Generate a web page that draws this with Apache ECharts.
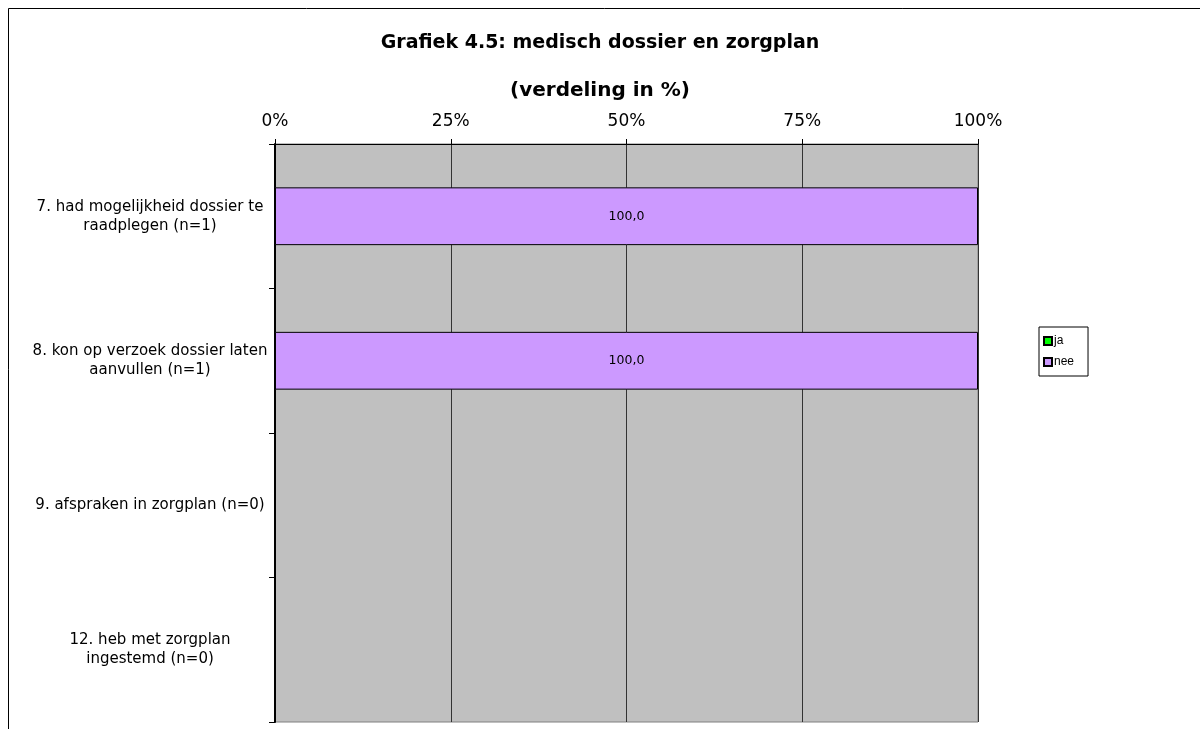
<!DOCTYPE html>
<html>
<head>
<meta charset="utf-8">
<script src="https://cdn.jsdelivr.net/npm/echarts@6/dist/echarts.min.js"></script>
<style>
  html, body { margin: 0; padding: 0; background: #fff; }
  #chart { width: 1200px; height: 729px; }
</style>
</head>
<body>
<div id="chart"></div>
<script>
  // categorieen (van boven naar beneden)
  var categories = [
    '7. had mogelijkheid dossier te\nraadplegen (n=1)',
    '8. kon op verzoek dossier laten\naanvullen (n=1)',
    '9. afspraken in zorgplan (n=0)',
    '12. heb met zorgplan\ningestemd (n=0)'
  ];
  var jaData = [0, 0, null, null];
  var neeData = [100, 100, null, null];
  var xTicks = [0, 25, 50, 75, 100];

  var myChart = echarts.init(document.getElementById('chart'));

  var barLabel = {
    show: true,
    position: 'inside',
    color: '#000',
    fontFamily: 'DejaVu Sans',
    fontSize: 12.5,
    formatter: function (p) {
      if (!p.value) return '';
      return p.value.toFixed(1).replace('.', ',');
    }
  };

  var option = {
    animation: false,
    backgroundColor: '#fff',
    graphic: [{
      type: 'rect',
      shape: { x: 8.5, y: 8.5, width: 1210, height: 740 },
      style: { fill: 'none', stroke: '#000', lineWidth: 1 },
      silent: true
    }],
    title: [{
      text: 'Grafiek 4.5: medisch dossier en zorgplan',
      left: 'center',
      top: 29,
      textStyle: { fontFamily: 'DejaVu Sans', fontSize: 19, fontWeight: 'bold', color: '#000' }
    }, {
      text: '(verdeling in %)',
      left: 'center',
      top: 76,
      textStyle: { fontFamily: 'DejaVu Sans', fontSize: 20, fontWeight: 'bold', color: '#000' }
    }],
    legend: {
      data: ['ja', 'nee'],
      orient: 'vertical',
      left: 1039,
      top: 327,
      itemWidth: 8,
      itemHeight: 8,
      itemGap: 9,
      padding: [8, 14, 8, 4],
      borderColor: '#000',
      borderWidth: 1,
      icon: 'rect',
      selectedMode: false,
      textStyle: { fontFamily: 'Liberation Sans', fontSize: 12, color: '#000', padding: [0, 0, 0, -3] }
    },
    grid: {
      left: 275,
      right: 222,
      top: 144,
      bottom: 7,
      show: true,
      backgroundColor: '#c0c0c0',
      borderColor: '#808080',
      borderWidth: 1
    },
    xAxis: {
      type: 'value',
      position: 'top',
      min: xTicks[0],
      max: xTicks[xTicks.length - 1],
      interval: 25,
      axisLine: { show: true, lineStyle: { color: '#000', width: 1 } },
      axisTick: { show: true, length: 5, lineStyle: { color: '#000' } },
      axisLabel: {
        margin: 14,
        fontFamily: 'DejaVu Sans',
        fontSize: 17,
        color: '#000',
        formatter: '{value}%'
      },
      splitLine: { show: true, lineStyle: { color: '#333', width: 1 } }
    },
    yAxis: {
      type: 'category',
      inverse: true,
      data: categories,
      axisLine: { show: true, lineStyle: { color: '#000', width: 2 } },
      axisTick: { show: true, length: 6, lineStyle: { color: '#000' } },
      axisLabel: {
        align: 'center',
        margin: 125,
        fontFamily: 'DejaVu Sans',
        fontSize: 15,
        lineHeight: 19,
        color: '#000'
      }
    },
    series: [{
      name: 'ja',
      type: 'bar',
      stack: 'totaal',
      barWidth: '40%',
      data: jaData,
      itemStyle: { color: '#00ff00', borderColor: '#000', borderWidth: 1 },
      label: barLabel
    }, {
      name: 'nee',
      type: 'bar',
      stack: 'totaal',
      barWidth: '40%',
      data: neeData,
      itemStyle: { color: '#cc99ff', borderColor: '#000', borderWidth: 1 },
      label: barLabel
    }]
  };

  myChart.setOption(option);
</script>
</body>
</html>
